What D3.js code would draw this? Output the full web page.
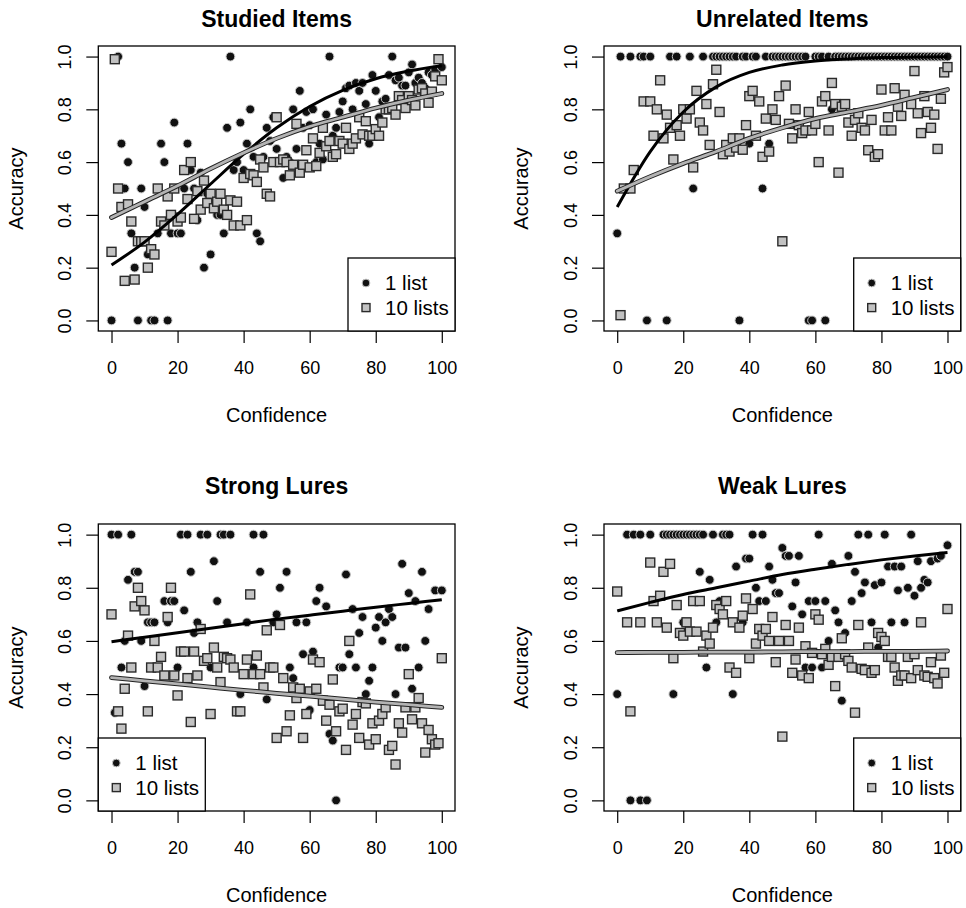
<html>
<head>
<meta charset="utf-8">
<title>Confidence vs accuracy</title>
<style>
  body { margin: 0; background: #fff; }
  svg { display: block; font-family: 'Liberation Sans', Arial, Helvetica, sans-serif; }
  .tick line { stroke: #000; stroke-width: 1.2; }
</style>
</head>
<body>
<div id="chart"></div>
<script src="https://cdnjs.cloudflare.com/ajax/libs/d3/7.8.5/d3.min.js"></script>
<script>
// tick labels
const confTicks = [0, 20, 40, 60, 80, 100]
const accTicks = [0, 0.2, 0.4, 0.6, 0.8, 1.0]
const seriesNames = ["1 list", "10 lists"]
const panelTitles = ["Studied Items", "Unrelated Items", "Strong Lures", "Weak Lures"]

const fitConf = [0, 10, 20, 30, 40, 50, 60, 70, 80, 90, 100]

// ---- Studied items ----
const studiedOne = [[0,0],[2,1],[3,.67],[4,.5],[5,.6],[6,.33],[7,.2],[8,0],[9,.5],[10,.43],[11,.25],[12,0],[13,0],[14,.33],[15,.67],[16,.6],[17,0],[18,.33],[19,.75],[20,.33],[21,.33],[22,.5],[23,.67],[24,.57],[25,.5],[26,.38],[27,.56],[28,.2],[29,.48],[30,.25],[31,.45],[32,.4],[33,.4],[34,.33],[35,.73],[36,1],[37,.57],[38,.6],[39,.75],[40,.57],[41,.67],[42,.8],[43,.62],[44,.33],[45,.3],[46,.62],[47,.73],[48,.68],[49,.77],[50,.65],[51,.6],[52,.54],[53,.62],[54,.6],[55,.8],[56,.65],[57,.87],[58,.73],[59,.79],[60,.74],[61,.8],[62,.6],[63,.67],[64,.61],[65,.78],[66,1],[67,.7],[68,.73],[69,.79],[70,.83],[71,.88],[72,.89],[73,.8],[74,.9],[75,.87],[76,.9],[77,.82],[78,.67],[79,.93],[80,.87],[81,.77],[82,.83],[83,.84],[84,.93],[85,1],[86,.91],[87,.92],[88,.89],[89,.89],[90,.94],[91,.97],[92,.9],[93,.92],[94,.9],[95,.88],[96,.94],[97,.93],[98,.95],[100,.96]]
const studiedTen = [[0,.26],[1,.99],[2,.5],[3,.43],[4,.15],[5,.44],[6,.375],[7,.155],[8,.3],[9,.3],[10,.3],[11,.2],[12,.27],[13,.25],[14,.5],[15,.375],[16,.36],[17,.47],[18,.4],[19,.5],[20,.375],[21,.39],[22,.57],[23,.46],[24,.6],[25,.385],[26,.49],[27,.42],[28,.53],[29,.445],[30,.48],[31,.425],[32,.45],[33,.48],[34,.42],[35,.4],[36,.455],[37,.36],[38,.45],[39,.36],[40,.54],[41,.38],[42,.555],[43,.55],[44,.525],[45,.61],[46,.58],[47,.48],[48,.47],[49,.6],[50,.77],[51,.6],[52,.61],[53,.6],[54,.55],[55,.59],[56,.745],[57,.56],[58,.59],[59,.645],[60,.58],[61,.69],[62,.585],[63,.635],[64,.73],[65,.66],[66,.68],[67,.62],[68,.63],[69,.68],[70,.67],[71,.73],[72,.65],[73,.67],[74,.69],[75,.77],[76,.705],[77,.755],[78,.7],[79,.7],[80,.725],[81,.7],[82,.75],[83,.8],[84,.8],[85,.805],[86,.78],[87,.85],[88,.835],[89,.805],[90,.85],[91,.835],[92,.815],[93,.875],[94,.88],[95,.86],[96,.825],[97,.867],[98,.925],[99,.99],[100,.91]]
const studiedOneFit = [.21, .297, .402, .517, .63, .73, .811, .872, .916, .945, .965]
const studiedTenFit = [.39, .45, .51, .575, .635, .69, .735, .77, .805, .835, .86]

// ---- Unrelated items ----
const unrelatedOne = [[0,.33],[1,1],[4,1],[7,1],[8,1],[9,0],[10,1],[15,0],[16,1],[18,1],[22,1],[23,.5],[26,1],[29,1],[30,1],[31,1],[32,1],[33,1],[34,1],[35,1],[36,1],[37,0],[38,1],[39,1],[40,.67],[41,1],[42,1],[44,.5],[45,1],[46,.67],[47,1],[48,1],[49,1],[50,1],[51,1],[52,1],[53,1],[54,1],[55,1],[56,1],[57,1],[58,0],[59,0],[60,1],[61,1],[62,1],[63,0],[64,1],[65,.8],[66,1],[67,1],[68,1],[69,1],[70,1],[71,1],[72,1],[73,1],[74,1],[75,1],[76,1],[77,1],[78,1],[79,1],[80,1],[81,1],[82,1],[83,1],[84,1],[85,1],[86,1],[87,1],[88,1],[89,1],[90,1],[91,1],[92,1],[93,1],[94,1],[95,1],[96,1],[97,1],[98,1],[99,1],[100,1]]
const unrelatedTen = [[1,.02],[2,.5],[4,.5],[5,.57],[8,.83],[10,.83],[11,.7],[12,.8],[13,.91],[14,.69],[15,.78],[16,.73],[17,.61],[18,.74],[19,.7],[20,.8],[21,.765],[22,.8],[23,.58],[24,.87],[25,.75],[26,.72],[27,.82],[28,.665],[29,.895],[30,.95],[31,.79],[32,.63],[33,.665],[34,.64],[35,.69],[36,.655],[37,.69],[38,.647],[39,.74],[40,.85],[41,.87],[42,.7],[43,.83],[44,.62],[45,.765],[46,.64],[47,.8],[48,.76],[49,.85],[50,.3],[51,.89],[52,.745],[53,.69],[54,.8],[55,.74],[56,.71],[57,.72],[58,.79],[59,.72],[60,.745],[61,.6],[62,.83],[63,.85],[64,.72],[65,.9],[66,.82],[67,.56],[68,.81],[69,.82],[70,.75],[71,.7],[72,.76],[73,.785],[74,.73],[75,.72],[76,.645],[77,.76],[78,.62],[79,.63],[80,.875],[81,.72],[82,.77],[83,.72],[84,.88],[85,.81],[86,.775],[87,.855],[89,.82],[90,.945],[91,.785],[92,.71],[93,.85],[94,.79],[95,.73],[96,.78],[97,.65],[98,.84],[99,.94],[100,.96]]
const unrelatedOneFit = [.43, .64, .79, .885, .94, .968, .983, .991, .996, .998, .999]
const unrelatedTenFit = [.49, .545, .595, .64, .69, .73, .765, .79, .815, .845, .875]

// ---- Strong lures ----
const strongOne = [[0,1],[1,.33],[2,1],[3,.5],[4,.6],[5,.83],[6,1],[7,.86],[8,.86],[9,.6],[10,.43],[11,.67],[12,.67],[13,.67],[16,.75],[17,.67],[18,.75],[19,.75],[20,.5],[21,1],[22,.715],[23,1],[24,.86],[25,.63],[26,.67],[27,1],[29,1],[30,.5],[31,.9],[32,.75],[33,1],[34,1],[35,.67],[36,1],[39,.4],[41,.67],[43,1],[43,.5],[45,.86],[46,1],[47,.38],[49,.67],[50,.7],[51,.8],[53,.86],[54,.5],[55,.46],[56,.67],[58,.55],[59,.67],[60,.34],[61,.56],[62,.75],[63,.8],[65,.73],[66,.25],[67,.225],[68,0],[69,.5],[70,.5],[71,.85],[72,.55],[73,.72],[74,.5],[75,.63],[76,.69],[77,.4],[78,.45],[79,.5],[80,.65],[81,.69],[82,.6],[83,.67],[84,.72],[85,.69],[86,.4],[87,.575],[88,.89],[89,.575],[90,.78],[91,.42],[92,.75],[93,.5],[94,.86],[95,.6],[96,.72],[98,.79],[100,.79]]
const strongTen = [[0,.7],[2,.335],[3,.27],[4,.42],[5,.62],[6,.5],[7,.73],[8,.8],[9,.75],[10,.715],[11,.335],[12,.5],[13,.6],[14,.5],[15,.54],[16,.47],[17,.69],[18,.8],[19,.47],[20,.395],[21,.56],[22,.56],[23,.46],[24,.295],[25,.56],[26,.47],[27,.645],[28,.525],[29,.535],[30,.325],[31,.575],[32,.5],[33,.445],[34,.54],[35,.535],[36,.53],[37,.5],[38,.335],[39,.335],[40,.475],[41,.53],[42,.775],[43,.475],[44,.545],[45,.475],[46,.425],[47,.64],[48,.5],[49,.5],[50,.235],[51,.66],[52,.46],[53,.26],[54,.32],[55,.425],[56,.385],[57,.42],[58,.235],[59,.325],[60,.41],[61,.53],[62,.42],[63,.52],[64,.375],[65,.3],[66,.36],[67,.455],[68,.26],[69,.335],[70,.345],[71,.19],[72,.6],[73,.285],[74,.325],[75,.235],[76,.37],[77,.365],[78,.21],[79,.29],[80,.23],[81,.3],[82,.325],[83,.35],[84,.19],[85,.205],[86,.135],[87,.29],[88,.255],[89,.35],[90,.475],[91,.305],[92,.35],[93,.385],[94,.29],[95,.18],[96,.265],[97,.23],[98,.21],[99,.215],[100,.535]]
const strongOneFit = [.597, .614, .631, .648, .665, .682, .697, .712, .727, .741, .755]
const strongTenFit = [.462, .45, .438, .426, .414, .403, .392, .381, .37, .36, .35]

// ---- Weak lures ----
const weakOne = [[0,.4],[3,1],[4,0],[5,1],[7,1],[7,0],[9,0],[10,1],[14,1],[15,1],[16,1],[17,.4],[17,1],[18,1],[19,1],[20,1],[20,.67],[21,1],[22,1],[23,1],[24,1],[25,1],[25,.86],[26,1],[27,.5],[28,.83],[29,1],[30,.67],[31,.75],[32,1],[33,1],[34,1],[35,.4],[36,.88],[38,.67],[39,.91],[40,.91],[41,1],[42,.8],[43,.75],[44,1],[45,.75],[46,.88],[47,.83],[48,.78],[49,.78],[50,.95],[51,.92],[52,.92],[53,.73],[54,.82],[55,.92],[56,.7],[57,.5],[58,.75],[59,.5],[60,.75],[61,1],[62,.5],[63,.75],[64,.6],[65,.89],[66,.715],[67,.67],[68,.375],[69,.63],[70,.92],[71,.75],[72,.86],[73,1],[74,.78],[75,.82],[76,1],[77,.67],[78,.81],[79,.575],[80,.82],[81,1],[82,.88],[83,.67],[84,.88],[85,.79],[86,.88],[87,.67],[88,.8],[89,1],[90,.77],[91,.9],[92,.8],[93,.83],[94,.82],[95,.9],[97,.91],[98,.92],[100,.96]]
const weakTen = [[0,.786],[3,.67],[4,.335],[7,.67],[10,.895],[11,.75],[12,.67],[13,.77],[14,.86],[15,.65],[16,.89],[17,.535],[18,.735],[19,.63],[20,.62],[21,.67],[22,.635],[23,.75],[24,.635],[25,.75],[26,.56],[27,.62],[28,.59],[29,.65],[30,.735],[31,.72],[32,.7],[33,.75],[34,.5],[35,.67],[36,.48],[37,.65],[38,.695],[39,.76],[40,.535],[41,.72],[42,.59],[43,.645],[44,.62],[45,.645],[46,.6],[47,.69],[48,.52],[49,.6],[50,.24],[51,.66],[52,.6],[53,.48],[54,.53],[55,.65],[56,.47],[57,.58],[58,.46],[59,.555],[60,.7],[61,.68],[62,.55],[63,.57],[64,.51],[65,.54],[66,.43],[67,.54],[68,.61],[69,.55],[70,.525],[71,.5],[72,.33],[73,.66],[74,.495],[75,.49],[76,.575],[77,.48],[78,.49],[79,.63],[80,.615],[81,.6],[82,.54],[83,.54],[84,.5],[85,.45],[86,.47],[87,.47],[88,.54],[89,.46],[90,.55],[91,.49],[92,.67],[93,.47],[94,.465],[95,.52],[96,.46],[97,.44],[98,.545],[99,.48],[100,.72]]
const weakOneFit = [.713, .745, .775, .80, .825, .85, .87, .888, .905, .92, .933]
const weakTenFit = [.556, .557, .557, .558, .558, .559, .56, .56, .561, .561, .562]

// ---------------------------------------------------------------
const W = 966, H = 908

const panels = [
  { title: panelTitles[0], one: studiedOne, ten: studiedTen, oneFit: studiedOneFit, tenFit: studiedTenFit,
    left: 98.3, top: 46, right: 455, bottom: 331, titleY: 26.7, legend: "br" },
  { title: panelTitles[1], one: unrelatedOne, ten: unrelatedTen, oneFit: unrelatedOneFit, tenFit: unrelatedTenFit,
    left: 604, top: 46, right: 960.7, bottom: 331, titleY: 26.7, legend: "br" },
  { title: panelTitles[2], one: strongOne, ten: strongTen, oneFit: strongOneFit, tenFit: strongTenFit,
    left: 98.3, top: 524, right: 455, bottom: 811, titleY: 494.3, legend: "bl" },
  { title: panelTitles[3], one: weakOne, ten: weakTen, oneFit: weakOneFit, tenFit: weakTenFit,
    left: 604, top: 524, right: 960.7, bottom: 811, titleY: 494.3, legend: "br" }
]

const svg = d3.select("#chart").append("svg")
  .attr("width", W)
  .attr("height", H)

const squareSize = 9
const squareFill = "#c2c2c2"

function drawCircle(sel, r) {
  sel.attr("r", r).attr("fill", "#111").attr("stroke", "#c8c8c8").attr("stroke-width", 1)
}

function drawSquare(sel, s) {
  sel.attr("width", s).attr("height", s)
    .attr("fill", squareFill).attr("stroke", "#2a2a2a").attr("stroke-width", 1.4)
}

panels.forEach(p => {
  const g = svg.append("g")

  const x = d3.scaleLinear().domain([-4, 104]).range([p.left, p.right])
  const y = d3.scaleLinear().domain([-0.04, 1.04]).range([p.bottom, p.top])

  // points
  g.append("g").selectAll("circle")
    .data(p.one)
    .join("circle")
    .attr("cx", d => x(d[0]))
    .attr("cy", d => y(d[1]))
    .call(drawCircle, 4.4)

  g.append("g").selectAll("rect")
    .data(p.ten)
    .join("rect")
    .attr("x", d => x(d[0]) - squareSize / 2)
    .attr("y", d => y(d[1]) - squareSize / 2)
    .call(drawSquare, squareSize)

  // fitted curves
  const line = d3.line()
    .x((d, i) => x(fitConf[i]))
    .y(d => y(d))
    .curve(d3.curveMonotoneX)

  g.append("path").attr("d", line(p.oneFit))
    .attr("fill", "none").attr("stroke", "#000").attr("stroke-width", 3)
  g.append("path").attr("d", line(p.tenFit))
    .attr("fill", "none").attr("stroke", "#222").attr("stroke-width", 4.8).attr("stroke-linecap", "round")
  g.append("path").attr("d", line(p.tenFit))
    .attr("fill", "none").attr("stroke", "#b3b3b3").attr("stroke-width", 2.8).attr("stroke-linecap", "round")

  // axes
  const xAxis = d3.axisBottom(x).tickValues(confTicks).tickSize(12).tickSizeOuter(0).tickPadding(18)
  const gx = g.append("g")
    .attr("transform", `translate(0,${p.bottom})`)
    .call(xAxis)
  gx.select(".domain").remove()
  gx.selectAll(".tick text")
    .attr("font-size", 18)
    .attr("font-family", "'Liberation Sans', Arial, sans-serif")
    .attr("fill", "#000")

  const yAxis = d3.axisLeft(y).tickValues(accTicks).tickSize(12).tickSizeOuter(0).tickFormat(d3.format(".1f"))
  const gy = g.append("g")
    .attr("transform", `translate(${p.left},0)`)
    .call(yAxis)
  gy.select(".domain").remove()
  gy.selectAll(".tick text")
    .attr("x", null)
    .attr("dy", null)
    .attr("text-anchor", "middle")
    .attr("transform", "translate(-27,0) rotate(-90)")
    .attr("font-size", 18)
    .attr("font-family", "'Liberation Sans', Arial, sans-serif")
    .attr("fill", "#000")

  // box
  g.append("rect")
    .attr("x", p.left).attr("y", p.top)
    .attr("width", p.right - p.left).attr("height", p.bottom - p.top)
    .attr("fill", "none").attr("stroke", "#000").attr("stroke-width", 1.3)

  // title & axis labels
  g.append("text")
    .attr("x", (p.left + p.right) / 2).attr("y", p.titleY)
    .attr("text-anchor", "middle")
    .attr("font-size", 23).attr("font-weight", "bold")
    .text(p.title)

  g.append("text")
    .attr("x", (p.left + p.right) / 2).attr("y", p.bottom + 90.7)
    .attr("text-anchor", "middle")
    .attr("font-size", 20)
    .text("Confidence")

  g.append("text")
    .attr("transform", `translate(${p.left - 75.7},${(p.top + p.bottom) / 2}) rotate(-90)`)
    .attr("text-anchor", "middle")
    .attr("font-size", 20)
    .text("Accuracy")

  // legend
  const lw = 107, lh = 73
  const lx = p.legend === "br" ? p.right - lw : p.left
  const ly = p.bottom - lh
  const leg = g.append("g").attr("transform", `translate(${lx},${ly})`)
  leg.append("rect")
    .attr("width", lw).attr("height", lh)
    .attr("fill", "#fff").attr("stroke", "#000").attr("stroke-width", 1.3)
  leg.append("circle").attr("cx", 18).attr("cy", 25).call(drawCircle, 3.9)
  leg.append("rect").attr("x", 18 - 4).attr("y", 49.6 - 4).call(drawSquare, 8)
  leg.selectAll("text.lab")
    .data(seriesNames)
    .join("text")
    .attr("class", "lab")
    .attr("x", 37)
    .attr("y", (d, i) => 25 + i * 24.6)
    .attr("dy", "0.36em")
    .attr("font-size", 20.5)
    .text(d => d)
})
</script>
</body>
</html>
